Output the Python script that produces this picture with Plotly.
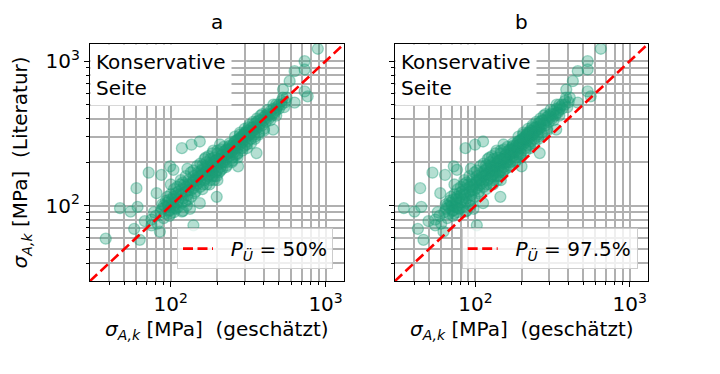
import plotly.graph_objects as go

# sigma_A,k estimated (P_U = 50 %)
x_est_50 = [38,47,55,61,60,72,58,68,75,63,85,87,99,81,118,140,154,198,136,154,118,104,75,80,78,82,
88,90,92,95,97,100,102,93,98,105,108,90,86,100,104,110,96,99,107,112,
115,118,120,122,125,128,130,132,135,138,140,142,145,148,115,118,125,130,135,140,145,150,112,127,133,120,116,110,105,100,
152,155,158,160,162,165,168,170,172,175,178,180,182,185,188,190,192,195,198,200,205,208,210,212,215,218,155,160,165,170,175,180,185,190,200,205,215,220,200,210,
225,228,230,235,238,240,245,250,255,258,262,265,270,275,280,285,290,295,300,305,310,315,320,325,330,240,250,260,270,280,290,300,310,320,272,330,230,260,300,
335,340,345,350,355,360,365,370,380,390,400,410,420,430,440,450,458,460,470,480,485,358,350,400,380,
500,520,531,540,560,586,631,631,732,732,732,766,891,500,530,550,480,
125,135,145,155,165,175,185,195,205,215,225,235,245,255,265,275,285,295,310,320,340,360,380,400,420,440,130,150,170,190,210,230,250,270,290,310,118,108,140,160,180,200,220,240,260,280,300,330,350,370,410,460,520,
95,100,105,110,92,98,103,88,112,106,120,125,130,135,140,145,150,155,160,165,
170,175,180,185,190,195,200,210,220,230,240,250,260,270,280,290,300,310,320,330,
340,350,360,370,390,400,420,440,460,480,128,148,168,188,208,178,198,228,248,268]

# sigma_A,k from literature
sigma_lit = [59,96,91,98,132,169,69,78,73,58,66,163,187,122,91,73,104,115,264,278,250,177,80,85,90,75,
95,100,88,105,92,98,110,108,85,100,95,82,90,120,115,105,100,93,112,98,
120,130,112,140,125,118,150,135,128,145,160,122,138,150,140,105,160,110,170,132,155,142,125,100,95,92,150,135,130,140,
160,148,175,165,140,180,170,155,190,175,165,185,200,170,195,180,160,205,190,175,210,195,185,220,200,215,195,130,210,140,220,150,230,150,230,170,180,235,150,245,
225,210,245,230,255,220,250,240,270,235,260,280,250,290,265,300,275,310,285,320,300,280,330,310,345,270,215,300,230,310,250,340,265,360,187,290,200,225,260,
330,350,310,370,340,380,350,320,390,360,410,380,430,400,450,420,336,470,440,460,480,231,290,340,420,
500,530,636,480,560,727,517,853,1000,876,617,571,1219,470,560,520,500,
135,140,150,160,165,185,190,195,200,225,240,245,235,255,265,270,285,295,320,310,330,360,370,390,410,430,128,165,175,200,210,225,260,285,300,330,118,122,150,180,175,210,200,240,250,290,310,320,350,390,420,440,500,
115,88,90,118,98,110,104,102,110,96,145,108,140,115,175,125,170,135,190,150,
200,160,210,160,215,170,240,175,255,190,260,205,280,215,320,240,320,250,350,270,
380,300,400,310,430,330,460,390,500,420,180,188,215,240,265,140,160,185,200,225]

# sigma_A,k estimated (P_U = 97.5 %)
x_est_975 = [27.7,34.3,40.2,44.5,43.8,52.6,42.3,49.6,54.8,46,62,63.5,72.3,59.1,86.1,102,112,145,99.3,112,86.1,75.9,54.8,58.4,56.9,59.9,
64.2,65.7,67.2,69.4,70.8,73,74.5,67.9,71.5,76.7,78.8,65.7,62.8,73,75.9,80.3,70.1,72.3,78.1,81.8,
84,86.1,87.6,89.1,91.3,93.4,94.9,96.4,98.6,101,102,104,106,108,84,86.1,91.3,94.9,98.6,102,106,110,81.8,92.7,97.1,87.6,84.7,80.3,76.7,73,
111,113,115,117,118,120,123,124,126,128,130,131,133,135,137,139,140,142,145,146,150,152,153,155,157,159,113,117,120,124,128,131,135,139,146,150,157,161,146,153,
164,166,168,172,174,175,179,183,186,188,191,193,197,201,204,208,212,215,219,223,226,230,234,237,241,175,183,190,197,204,212,219,226,234,199,241,168,190,219,
245,248,252,256,259,263,266,270,277,285,292,299,307,314,321,329,334,336,343,350,354,261,256,292,277,
365,380,388,394,409,428,461,461,534,534,534,559,650,365,387,402,350,
91.3,98.6,106,113,120,128,135,142,150,157,164,172,179,186,193,201,208,215,226,234,248,263,277,292,307,321,94.9,110,124,139,153,168,183,197,212,226,86.1,78.8,102,117,131,146,161,175,190,204,219,241,256,270,299,336,380,
69.4,73,76.7,80.3,67.2,71.5,75.2,64.2,81.8,77.4,87.6,91.3,94.9,98.6,102,106,110,113,117,120,
124,128,131,135,139,142,146,153,161,168,175,183,190,197,204,212,219,226,234,241,
248,256,263,270,285,292,307,321,336,350,93.4,108,123,137,152,130,145,166,181,196]

diag = [30, 1320]
panel_titles = ["a", "b"]
legend_labels = ["&nbsp;&nbsp;<i>P</i><sub><i>Ü</i></sub> = 50%",
                 "&nbsp;&nbsp;<i>P</i><sub><i>Ü</i></sub> = 97.5%"]
major_ticks = [100, 1000]
major_text = ["10<sup>2</sup>", "10<sup>3</sup>"]
minor_ticks = [30, 40, 50, 60, 70, 80, 90, 200, 300, 400, 500, 600, 700, 800, 900]

FONT = "DejaVu Sans"
FS = 20
teal_fill = "rgba(27,158,119,0.33)"
teal_edge = "rgba(27,158,119,0.4)"
GRID = "#b0b0b0"

fig = go.Figure()
for i, xs in enumerate([x_est_50, x_est_975]):
    xa = "x" if i == 0 else "x2"
    ya = "y" if i == 0 else "y2"
    fig.add_trace(go.Scatter(
        x=xs, y=sigma_lit, mode="markers", xaxis=xa, yaxis=ya, showlegend=False,
        marker=dict(size=11, color=teal_fill, line=dict(color=teal_edge, width=1.3)),
        hoverinfo="skip"))
    fig.add_trace(go.Scatter(
        x=diag, y=diag, mode="lines", xaxis=xa, yaxis=ya,
        name=legend_labels[i], legend="legend" if i == 0 else "legend2",
        line=dict(color="#ff0000", width=2.6, dash="10px,4.5px")))

rng = [1.478, 3.119]
axis_common = dict(
    type="log", range=rng, tickmode="array", tickvals=major_ticks, ticktext=major_text,
    ticks="outside", ticklen=5, tickwidth=1.1, tickcolor="black",
    showgrid=True, gridcolor=GRID, gridwidth=1.5,
    showline=True, linecolor="black", linewidth=1.3, mirror=True,
    zeroline=False, automargin=False,
    tickfont=dict(family=FONT, size=FS, color="black"),
    minor=dict(tickmode="array", tickvals=minor_ticks, ticks="outside", ticklen=3,
               tickwidth=1, tickcolor="black", showgrid=True,
               gridcolor=GRID, gridwidth=1.5),
)

xlabel = "<i>σ</i><sub><i>A,k</i></sub> [MPa] &nbsp;(geschätzt)"
ylabel = "<i>σ</i><sub><i>A,k</i></sub> [MPa] &nbsp;(Literatur)"

legend_common = dict(yanchor="bottom", xanchor="right", y=0.05,
                     bgcolor="rgba(255,255,255,0.8)", bordercolor="#cccccc", borderwidth=1,
                     font=dict(family=FONT, size=FS), tracegroupgap=0)

fig.update_layout(
    width=720, height=374,
    margin=dict(l=90, r=72, t=44, b=93),
    paper_bgcolor="white", plot_bgcolor="white",
    font=dict(family=FONT, size=FS, color="black"),
    xaxis=dict(domain=[0, 0.4552], anchor="y", **axis_common),
    yaxis=dict(domain=[0, 1], anchor="x", **axis_common),
    xaxis2=dict(domain=[0.5466, 1], anchor="y2", **axis_common),
    yaxis2=dict(domain=[0, 1], anchor="x2", matches="y",
                **{**axis_common, "showticklabels": False}),
    legend=dict(x=0.4355, **legend_common),
    legend2=dict(x=0.9815, **legend_common),
)

for i, xd in enumerate(["x domain", "x2 domain"]):
    yd = "y domain" if i == 0 else "y2 domain"
    fig.add_annotation(text="Konservative<br>Seite", xref=xd, yref=yd, x=0, y=1,
                       xanchor="left", yanchor="top", align="left", showarrow=False,
                       bgcolor="white", borderpad=5,
                       font=dict(family=FONT, size=FS, color="black"))
    fig.add_annotation(text=panel_titles[i], xref=xd, yref="paper", x=0.5, y=1,
                       xanchor="center", yanchor="bottom", yshift=8, showarrow=False,
                       font=dict(family=FONT, size=FS, color="black"))
    fig.add_annotation(text=xlabel, xref=xd, yref="paper", x=0.5, y=-0.207,
                       xanchor="center", yanchor="middle", showarrow=False,
                       font=dict(family=FONT, size=FS, color="black"))

fig.add_annotation(text=ylabel, xref="paper", yref="paper", x=-0.1237, y=0.5,
                   xanchor="center", yanchor="middle", textangle=-90, showarrow=False,
                   font=dict(family=FONT, size=FS, color="black"))

fig.write_html("out.html", config={"displayModeBar": False},
               post_script="document.body.style.margin='0';")
